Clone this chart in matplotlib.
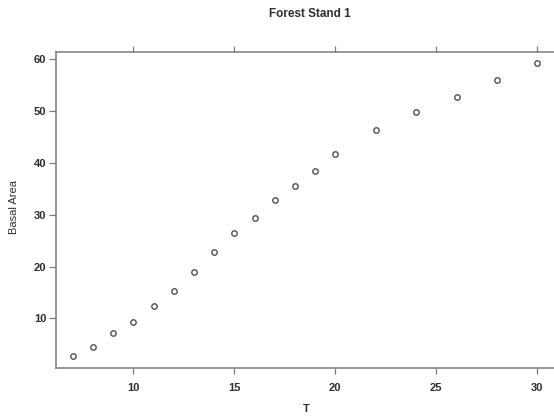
import matplotlib
matplotlib.use("Agg")
import matplotlib.pyplot as plt

# data
T = [7, 8, 9, 10, 11, 12, 13, 14, 15, 16, 17, 18, 19, 20, 22, 24, 26, 28, 30]
basal_area = [2.7, 4.4, 7.1, 9.2, 12.3, 15.2, 19.0, 22.8, 26.4, 29.3, 32.9,
              35.5, 38.4, 41.7, 46.3, 49.9, 52.8, 56.0, 59.3]

x_ticks = [10, 15, 20, 25, 30]
y_ticks = [10, 20, 30, 40, 50, 60]

plt.rcParams['font.family'] = ['Liberation Sans', 'DejaVu Sans']

W, H = 554, 416
txt = '#2e2e2e'
frame = '#7a7a7a'

fig = plt.figure(figsize=(W / 100, H / 100), dpi=100)
# the frame runs off the right edge of the image in the reference
left, right, top, bottom = 56, 565, 51.7, 368.3
ax = fig.add_axes([left / W, (H - bottom) / H, (right - left) / W, (bottom - top) / H])

ax.plot(T, basal_area, linestyle='none', marker='o', markersize=3.9,
        markerfacecolor='none', markeredgecolor='#505050', markeredgewidth=1.0)

ax.set_xlim(6.17, 31.37)
ax.set_ylim(0.35, 61.47)
ax.set_xticks(x_ticks)
ax.set_yticks(y_ticks)

for side in ['left', 'bottom', 'top']:
    ax.spines[side].set_color(frame)
    ax.spines[side].set_linewidth(1.1)
ax.spines['right'].set_visible(False)

ax.tick_params(axis='x', direction='out', length=4.5, width=0.9, color=frame,
               labelsize=8, labelcolor=txt, pad=6, top=True)
ax.tick_params(axis='y', direction='out', length=5, width=0.9, color=frame,
               labelsize=8, labelcolor=txt, pad=2, right=False)
for lab in ax.get_xticklabels() + ax.get_yticklabels():
    lab.set_fontweight('bold')

fig.text(306.7 / W, 1 - 409 / H, 'T', ha='center', va='center',
         fontsize=8, fontweight='bold', color=txt)
fig.text(14 / W, 1 - 207 / H, 'Basal Area', ha='center', va='center',
         rotation=90, fontsize=8, color=txt)
fig.text(310 / W, 1 - 14 / H, 'Forest Stand 1', ha='center', va='center',
         fontsize=8.5, fontweight='bold', color=txt)

fig.savefig('out.png', dpi=100)
